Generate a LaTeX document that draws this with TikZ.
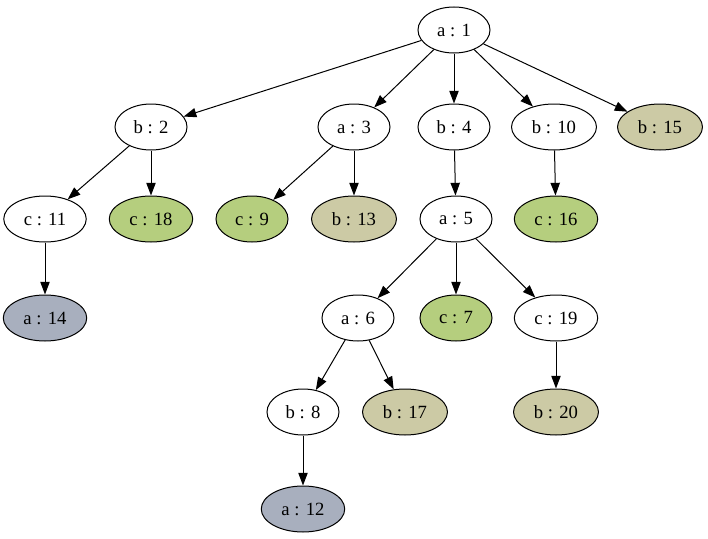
\documentclass[tikz,border=0pt]{standalone}
\usepackage{fontspec}
\setmainfont{Liberation Serif}
\usetikzlibrary{arrows.meta,shapes.geometric}
\definecolor{leafgreen}{RGB}{181,206,126}
\definecolor{leaftan}{RGB}{204,202,165}
\definecolor{leafgray}{RGB}{168,175,190}
\begin{document}
\begin{tikzpicture}[x=0.75pt,y=-0.75pt]
\tikzset{
  treenode/.style={ellipse,draw=black,line width=0.75pt,fill=white,minimum width=54pt,minimum height=34.5pt,inner xsep=6pt,inner ysep=0pt,font=\fontsize{14}{16}\selectfont},
  greennode/.style={treenode,fill=leafgreen},
  tannode/.style={treenode,fill=leaftan},
  graynode/.style={treenode,fill=leafgray},
  treeedge/.style={draw=black,line width=0.75pt,-{Triangle[length=9.5pt,width=7pt]}}
}
\useasboundingbox (0,0) rectangle (708,539);
\node[treenode] (n_a1) at (454,30) {a : 1};
\node[treenode] (n_b2) at (151,127) {b : 2};
\node[treenode] (n_a3) at (354,127) {a : 3};
\node[treenode] (n_b4) at (454,127) {b : 4};
\node[treenode] (n_b10) at (554,127) {b : 10};
\node[tannode] (n_b15) at (660,127) {b : 15};
\node[treenode] (n_c11) at (45,219) {c : 11};
\node[greennode] (n_c18) at (151,219) {c : 18};
\node[greennode] (n_c9) at (252,219) {c : 9};
\node[tannode] (n_b13) at (354,219) {b : 13};
\node[treenode] (n_a5) at (456,219) {a : 5};
\node[greennode] (n_c16) at (556,219) {c : 16};
\node[graynode] (n_a14) at (45,318) {a : 14};
\node[treenode] (n_a6) at (358,318) {a : 6};
\node[greennode] (n_c7) at (456,318) {c : 7};
\node[treenode] (n_c19) at (556,318) {c : 19};
\node[treenode] (n_b8) at (303,412) {b : 8};
\node[tannode] (n_b17) at (405,412) {b : 17};
\node[tannode] (n_b20) at (556,412) {b : 20};
\node[graynode] (n_a12) at (303,509) {a : 12};
\draw[treeedge] (n_a1) -- (n_b2);
\draw[treeedge] (n_a1) -- (n_a3);
\draw[treeedge] (n_a1) -- (n_b4);
\draw[treeedge] (n_a1) -- (n_b10);
\draw[treeedge] (n_a1) -- (n_b15);
\draw[treeedge] (n_b2) -- (n_c11);
\draw[treeedge] (n_b2) -- (n_c18);
\draw[treeedge] (n_a3) -- (n_c9);
\draw[treeedge] (n_a3) -- (n_b13);
\draw[treeedge] (n_b4) -- (n_a5);
\draw[treeedge] (n_b10) -- (n_c16);
\draw[treeedge] (n_c11) -- (n_a14);
\draw[treeedge] (n_a5) -- (n_a6);
\draw[treeedge] (n_a5) -- (n_c7);
\draw[treeedge] (n_a5) -- (n_c19);
\draw[treeedge] (n_a6) -- (n_b8);
\draw[treeedge] (n_a6) -- (n_b17);
\draw[treeedge] (n_c19) -- (n_b20);
\draw[treeedge] (n_b8) -- (n_a12);
\end{tikzpicture}
\end{document}
